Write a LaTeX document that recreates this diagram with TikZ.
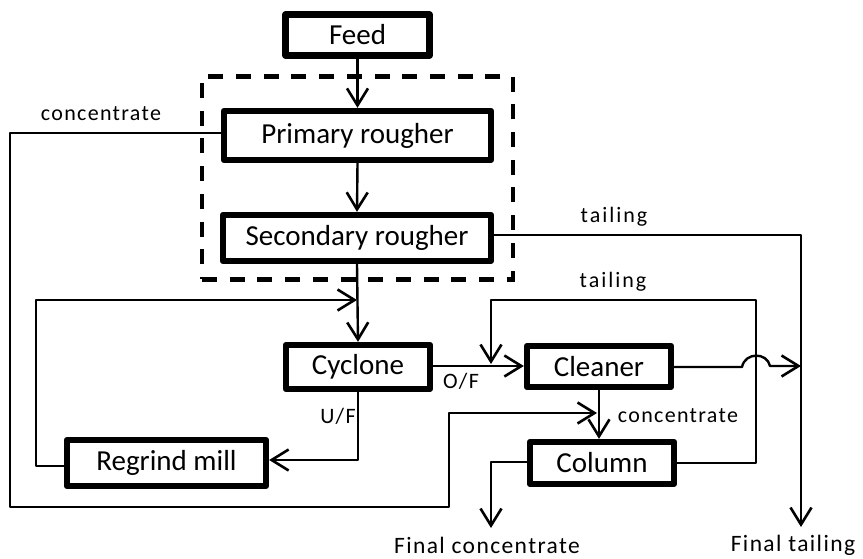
\documentclass[tikz,border=0pt]{standalone}
\usepackage{fontspec}
\setmainfont{Carlito}
\newfontfamily\spaced[LetterSpace=6]{Carlito}
\newfontfamily\wider[LetterSpace=9]{Carlito}
\usetikzlibrary{arrows.meta}
\tikzset{
  unit/.style={draw,line width=6.3pt,line join=round,inner sep=0pt,font=\fontsize{29}{32}\selectfont},
  flow/.style={line width=2.4pt,line join=round},
  arr/.style={flow,-{Straight Barb[length=17pt,width=21pt,line width=2.6pt]}},
  lab/.style={inner sep=0pt,font=\spaced\fontsize{22}{25}\selectfont},
  biglab/.style={inner sep=0pt,font=\spaced\fontsize{23.5}{26}\selectfont},
  widelab/.style={inner sep=0pt,font=\wider\fontsize{22}{25}\selectfont},
  stage/.style={draw,line width=4.5pt,dash pattern=on 15pt off 12.7pt,inner sep=0pt}
}
\begin{document}
\begin{tikzpicture}[x=1pt,y=-1pt]
\useasboundingbox (0,0) rectangle (863,559);
\node[stage,minimum width=311pt,minimum height=202.6pt] (stagebox) at (357.5,178) {};
\node[unit,minimum width=144pt,minimum height=41pt] (feed) at (357.5,35) {Feed};
\node[unit,minimum width=267pt,minimum height=49pt] (primary) at (357.5,135.5) {Primary rougher};
\node[unit,minimum width=268pt,minimum height=46pt] (secondary) at (357,238) {Secondary rougher};
\node[unit,minimum width=144pt,minimum height=44pt] (cyclone) at (358,367) {Cyclone};
\node[unit,minimum width=199pt,minimum height=46pt] (regrind) at (166.5,463) {Regrind mill};
\node[unit,minimum width=144pt,minimum height=41pt] (cleaner) at (599,366.5) {Cleaner};
\node[unit,minimum width=144pt,minimum height=42pt] (column) at (602,463) {Column};
% junction points
\coordinate (cA) at (10,133);
\coordinate (cB) at (10,507);
\coordinate (cC) at (449,507);
\coordinate (cD) at (449,413);
\coordinate (cE) at (597,413);
\coordinate (rA) at (36,466);
\coordinate (rB) at (36,300);
\coordinate (rC) at (357,300);
\coordinate (uA) at (358,460);
\coordinate (oA) at (433,366);
\coordinate (tA) at (756,463);
\coordinate (tB) at (756,300);
\coordinate (tC) at (491,300);
\coordinate (tD) at (491,364);
\coordinate (hA) at (742,367);
\coordinate (hB) at (770,366);
\coordinate (mA) at (801,235);
\coordinate (mB) at (801,527);
\coordinate (mC) at (801,366);
\coordinate (fA) at (491,462);
\coordinate (fB) at (491,528);
% connectors
\draw[arr] (feed.south) -- (primary.north);
\draw[arr] (primary.south) -- (secondary.north);
\draw[arr] (secondary.south) -- (cyclone.north);
\draw[arr] (primary.west |- cA) -- (cA) -- (cB) -- (cC) -- (cD) -- (cE);
\draw[arr] (rA -| regrind.west) -- (rA) -- (rB) -- (rC);
\draw[arr] (cyclone.south -| uA) -- (uA) -- (regrind.east |- uA);
\draw[arr] (cyclone.east |- oA) -- (cleaner.west |- oA);
\draw[arr] (column.east |- tA) -- (tA) -- (tB) -- (tC) -- (tD);
\draw[arr] (cleaner.east |- hA) -- (hA) .. controls (745,352) and (767,352) .. (hB) -- (mC);
\draw[arr] (secondary.east |- mA) -- (mA) -- (mB);
\draw[arr] (cleaner.south) -- (column.north -| cleaner.south);
\draw[arr] (column.west |- fA) -- (fA) -- (fB);
% labels
\node[lab] (l1) at (101,114) {concentrate};
\node[widelab] (l2) at (614,217) {tailing};
\node[widelab] (l3) at (613,282) {tailing};
\node[lab] (l4) at (461,381) {O/F};
\node[lab] (l5) at (338,416) {U/F};
\node[lab] (l6) at (678,416) {concentrate};
\node[biglab] (l7) at (487,545) {Final concentrate};
\node[biglab] (l8) at (793,545) {Final tailing};
\end{tikzpicture}
\end{document}
